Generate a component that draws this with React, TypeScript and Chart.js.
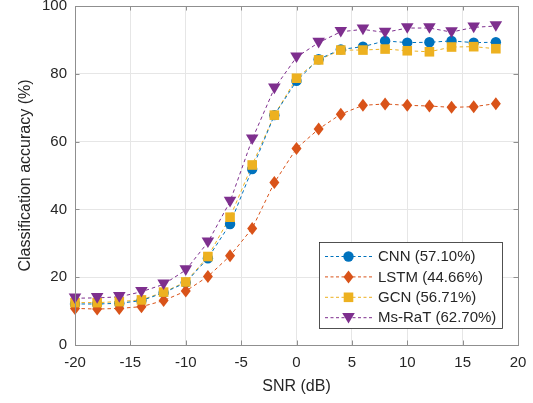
import React, { useEffect, useRef } from "react";
import { Chart, registerables } from "chart.js";

Chart.register(...registerables);

const snr = [-20, -18, -16, -14, -12, -10, -8, -6, -4, -2, 0, 2, 4, 6, 8, 10, 12, 14, 16, 18];
const cnn = [12.1, 12.1, 12.3, 13.1, 15.4, 18.4, 25.6, 35.7, 51.9, 67.8, 77.9, 84.3, 87.2, 88.0, 89.7, 89.2, 89.3, 89.7, 89.2, 89.3];
const lstm = [10.8, 10.6, 10.8, 11.3, 13.1, 15.9, 20.2, 26.3, 34.4, 47.9, 58.0, 63.7, 68.1, 70.7, 71.1, 70.7, 70.5, 70.1, 70.3, 71.2];
const gcn = [12.5, 12.5, 12.8, 13.3, 15.6, 18.6, 26.1, 37.7, 53.1, 67.8, 78.7, 84.1, 87.0, 87.0, 87.3, 86.8, 86.5, 87.9, 88.0, 87.4];
const msrat = [13.8, 13.9, 14.2, 15.7, 17.9, 22.1, 30.3, 42.3, 60.7, 75.7, 84.9, 89.2, 92.4, 93.1, 92.2, 93.5, 93.5, 92.3, 93.7, 94.1];
const seriesLabels = ["CNN (57.10%)", "LSTM (44.66%)", "GCN (56.71%)", "Ms-RaT (62.70%)"];
const xTicks = [-20, -15, -10, -5, 0, 5, 10, 15, 20];
const yTicks = [0, 20, 40, 60, 80, 100];

const FONT = "'Liberation Sans', Arial, Helvetica, sans-serif";
const COLORS = ["#0072BD", "#D95319", "#EDB120", "#7E2F8E"];
const MARKERS = ["circle", "diamond", "square", "tri"];

function drawMarker(ctx: CanvasRenderingContext2D, kind: string, x: number, y: number, color: string) {
  ctx.save();
  ctx.fillStyle = color;
  ctx.setLineDash([]);
  ctx.beginPath();
  if (kind === "circle") {
    ctx.arc(x, y, 5.2, 0, Math.PI * 2);
  } else if (kind === "diamond") {
    ctx.moveTo(x, y - 6.5);
    ctx.lineTo(x + 5, y);
    ctx.lineTo(x, y + 6.5);
    ctx.lineTo(x - 5, y);
    ctx.closePath();
  } else if (kind === "square") {
    ctx.rect(x - 4.8, y - 4.8, 9.6, 9.6);
  } else {
    ctx.moveTo(x - 6.3, y - 4.8);
    ctx.lineTo(x + 6.3, y - 4.8);
    ctx.lineTo(x, y + 5.8);
    ctx.closePath();
  }
  ctx.fill();
  ctx.restore();
}

const matlabPlugin = {
  id: "matlabStyle",
  afterDatasetsDraw(chart: any) {
    const ctx: CanvasRenderingContext2D = chart.ctx;
    const { left, right, top, bottom } = chart.chartArea;
    chart.data.datasets.forEach((ds: any, i: number) => {
      const meta = chart.getDatasetMeta(i);
      meta.data.forEach((pt: any) => {
        drawMarker(ctx, MARKERS[i], pt.x, pt.y, COLORS[i]);
      });
    });
    ctx.save();
    ctx.strokeStyle = "#8f8f8f";
    ctx.lineWidth = 1;
    ctx.setLineDash([]);
    ctx.strokeRect(Math.round(left) + 0.5, Math.round(top) + 0.5, Math.round(right - left), Math.round(bottom - top));
    const xs = chart.scales.x;
    const ys = chart.scales.y;
    ctx.beginPath();
    xTicks.forEach((v) => {
      const px = Math.round(xs.getPixelForValue(v)) + 0.5;
      ctx.moveTo(px, bottom);
      ctx.lineTo(px, bottom - 4.5);
      ctx.moveTo(px, top);
      ctx.lineTo(px, top + 4.5);
    });
    yTicks.forEach((v) => {
      const py = Math.round(ys.getPixelForValue(v)) + 0.5;
      ctx.moveTo(left, py);
      ctx.lineTo(left + 4.5, py);
      ctx.moveTo(right, py);
      ctx.lineTo(right - 4.5, py);
    });
    ctx.stroke();
    ctx.fillStyle = "#262626";
    ctx.font = `16px ${FONT}`;
    ctx.textAlign = "center";
    ctx.textBaseline = "middle";
    ctx.fillText("SNR (dB)", (left + right) / 2, 387);
    ctx.save();
    ctx.translate(26, (top + bottom) / 2);
    ctx.rotate(-Math.PI / 2);
    ctx.fillText("Classification accuracy (%)", 0, 0);
    ctx.restore();
    const lx = 319.5, ly = 242.5, lw = 183, lh = 86;
    ctx.fillStyle = "#ffffff";
    ctx.fillRect(lx, ly, lw, lh);
    ctx.strokeStyle = "#262626";
    ctx.lineWidth = 0.8;
    ctx.strokeRect(lx, ly, lw, lh);
    ctx.font = `15px ${FONT}`;
    ctx.textAlign = "left";
    seriesLabels.forEach((lab, i) => {
      const y = 256.5 + i * 20.4;
      ctx.strokeStyle = COLORS[i];
      ctx.lineWidth = 1;
      ctx.setLineDash([3, 2.5]);
      ctx.beginPath();
      ctx.moveTo(325, y);
      ctx.lineTo(372, y);
      ctx.stroke();
      drawMarker(ctx, MARKERS[i], 348.5, y, COLORS[i]);
      ctx.fillStyle = "#262626";
      ctx.fillText(lab, 378, y + 0.5);
    });
    ctx.restore();
  },
};

export default function App() {
  const ref = useRef<HTMLCanvasElement | null>(null);
  useEffect(() => {
    document.body.style.margin = "0";
    const all = [cnn, lstm, gcn, msrat];
    const chart = new Chart(ref.current as HTMLCanvasElement, {
      type: "line",
      data: {
        datasets: all.map((vals, i) => ({
          label: seriesLabels[i],
          data: snr.map((x, j) => ({ x, y: vals[j] })),
          borderColor: COLORS[i],
          backgroundColor: COLORS[i],
          borderWidth: 1,
          borderDash: [3.5, 3],
          pointRadius: 0,
          pointHoverRadius: 0,
          fill: false,
          tension: 0,
        })),
      },
      options: {
        responsive: false,
        animation: false,
        events: [],
        layout: { padding: { top: 6, right: 15, left: 0, bottom: 0 } },
        plugins: { legend: { display: false }, tooltip: { enabled: false } },
        scales: {
          x: {
            type: "linear",
            min: -20,
            max: 20,
            afterBuildTicks: (s: any) => {
              s.ticks = xTicks.map((v) => ({ value: v }));
            },
            afterFit: (s: any) => {
              s.height = 58;
              s.paddingLeft = 0;
              s.paddingRight = 0;
              s.paddingTop = 0;
              s.paddingBottom = 0;
            },
            ticks: { color: "#262626", font: { size: 15, family: FONT }, padding: 9, maxRotation: 0 },
            grid: { color: "#e6e6e6", lineWidth: 1, drawTicks: false },
            border: { display: false },
          },
          y: {
            type: "linear",
            min: 0,
            max: 100,
            afterBuildTicks: (s: any) => {
              s.ticks = yTicks.map((v) => ({ value: v }));
            },
            afterFit: (s: any) => {
              s.width = 75;
              s.paddingLeft = 0;
              s.paddingRight = 0;
              s.paddingTop = 0;
              s.paddingBottom = 0;
            },
            ticks: { color: "#262626", font: { size: 15, family: FONT }, padding: 8 },
            grid: { color: "#e6e6e6", lineWidth: 1, drawTicks: false },
            border: { display: false },
          },
        },
      },
      plugins: [matlabPlugin],
    } as any);
    return () => chart.destroy();
  }, []);
  return (
    <div style={{ width: 533, height: 403, background: "#fff" }}>
      <canvas ref={ref} width={533} height={403} style={{ display: "block" }} />
    </div>
  );
}
